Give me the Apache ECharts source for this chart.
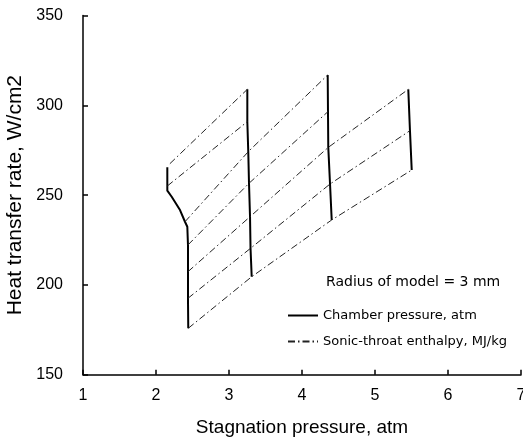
<!DOCTYPE html>
<html>
<head>
<meta charset="utf-8">
<script src="https://cdn.jsdelivr.net/npm/echarts@6/dist/echarts.min.js"></script>
<style>html,body{margin:0;padding:0;background:#fff}#c{width:523px;height:439px}</style>
</head>
<body>
<div id="c"></div>
<script>
// Axis ticks
const xTicks = [1, 2, 3, 4, 5, 6, 7];
const yTicks = [150, 200, 250, 300, 350];

// Chamber pressure lines (solid), [stagnation pressure, heat transfer rate]
const chamberA = [[2.155,265.5],[2.155,255.1],[2.155,252.5],[2.215,249.1],[2.329,241.7],[2.397,235.2],[2.429,232.4],[2.438,222.3],[2.438,207.4],[2.438,192.6],[2.442,175.9]];
const chamberB = [[3.251,308.9],[3.251,290.9],[3.264,274.2],[3.274,256.6],[3.288,238.0],[3.295,220.4],[3.311,204.6]];
const chamberC = [[4.352,316.9],[4.356,296.5],[4.360,276.6],[4.384,256.2],[4.407,236.2]];
const chamberD = [[5.456,308.9],[5.479,285.9],[5.503,264.0]];

// Sonic-throat enthalpy lines (dash-dot)
const enth1 = [[2.442,175.9],[3.311,204.6],[4.407,236.2],[5.503,264.0]];
const enth2 = [[2.438,192.6],[3.295,220.4],[4.384,256.2],[5.479,285.9]];
const enth3 = [[2.438,207.4],[3.288,238.0],[4.360,276.6],[5.456,308.9]];
const enth4 = [[2.438,222.3],[3.274,256.6],[4.356,296.5]];
const enth5 = [[2.397,235.2],[3.264,274.2],[4.352,316.9]];
const enth6 = [[2.155,255.1],[3.251,290.9]];
const enth7 = [[2.19,267.5],[3.251,308.9]];

function joinSegments(list) {
  const out = [];
  list.forEach((seg, i) => { if (i > 0) out.push('-'); seg.forEach(p => out.push(p)); });
  return out;
}

const chart = echarts.init(document.getElementById('c'), null, {renderer: 'canvas'});
const font = 'Liberation Sans, Arial, sans-serif';
chart.setOption({
  animation: false,
  title: {
    text: 'Radius of model = 3 mm',
    left: 326, top: 275, padding: 0,
    textStyle: {fontSize: 14, fontWeight: 'normal', color: '#000', fontFamily: 'DejaVu Sans'}
  },
  legend: {
    orient: 'vertical',
    left: 287, top: 309, padding: 0,
    itemWidth: 30, itemHeight: 12, itemGap: 13,
    itemStyle: {opacity: 0},
    textStyle: {fontSize: 13, color: '#000', fontFamily: 'DejaVu Sans'},
    data: ['Chamber pressure, atm', 'Sonic-throat enthalpy, MJ/kg']
  },
  grid: {left: 83, right: 2, top: 15.5, bottom: 64.2, containLabel: false, outerBoundsMode: 'none'},
  xAxis: {
    type: 'value', min: xTicks[0], max: xTicks[xTicks.length - 1], interval: 1,
    name: 'Stagnation pressure, atm', nameLocation: 'middle', nameGap: 43,
    nameTextStyle: {fontSize: 19, color: '#000', fontFamily: font},
    axisLine: {lineStyle: {color: '#000', width: 1.5}},
    axisTick: {inside: true, length: 5, lineStyle: {color: '#000', width: 1.5}},
    axisLabel: {fontSize: 16, color: '#000', margin: 13, fontFamily: font},
    splitLine: {show: false}
  },
  yAxis: {
    type: 'value', min: yTicks[0], max: yTicks[yTicks.length - 1], interval: 50,
    name: 'Heat transfer rate, W/cm2', nameLocation: 'middle', nameGap: 53,
    nameTextStyle: {fontSize: 21, color: '#000', fontFamily: font},
    axisLine: {show: true, lineStyle: {color: '#000', width: 1.5}},
    axisTick: {show: true, inside: true, length: 5, lineStyle: {color: '#000', width: 1.5}},
    axisLabel: {fontSize: 16, color: '#000', margin: 20, fontFamily: font},
    splitLine: {show: false}
  },
  series: [
    {
      name: 'Chamber pressure, atm', type: 'line', symbol: 'none',
      data: joinSegments([chamberA, chamberB, chamberC, chamberD]),
      lineStyle: {color: '#000', width: 2}, itemStyle: {color: '#000'}
    },
    {
      name: 'Sonic-throat enthalpy, MJ/kg', type: 'line', symbol: 'none',
      data: joinSegments([enth1, enth2, enth3, enth4, enth5, enth6, enth7]),
      lineStyle: {color: '#222', width: 1, type: [7, 3, 1.5, 3]}, itemStyle: {color: '#222'}
    }
  ]
});
</script>
</body>
</html>
